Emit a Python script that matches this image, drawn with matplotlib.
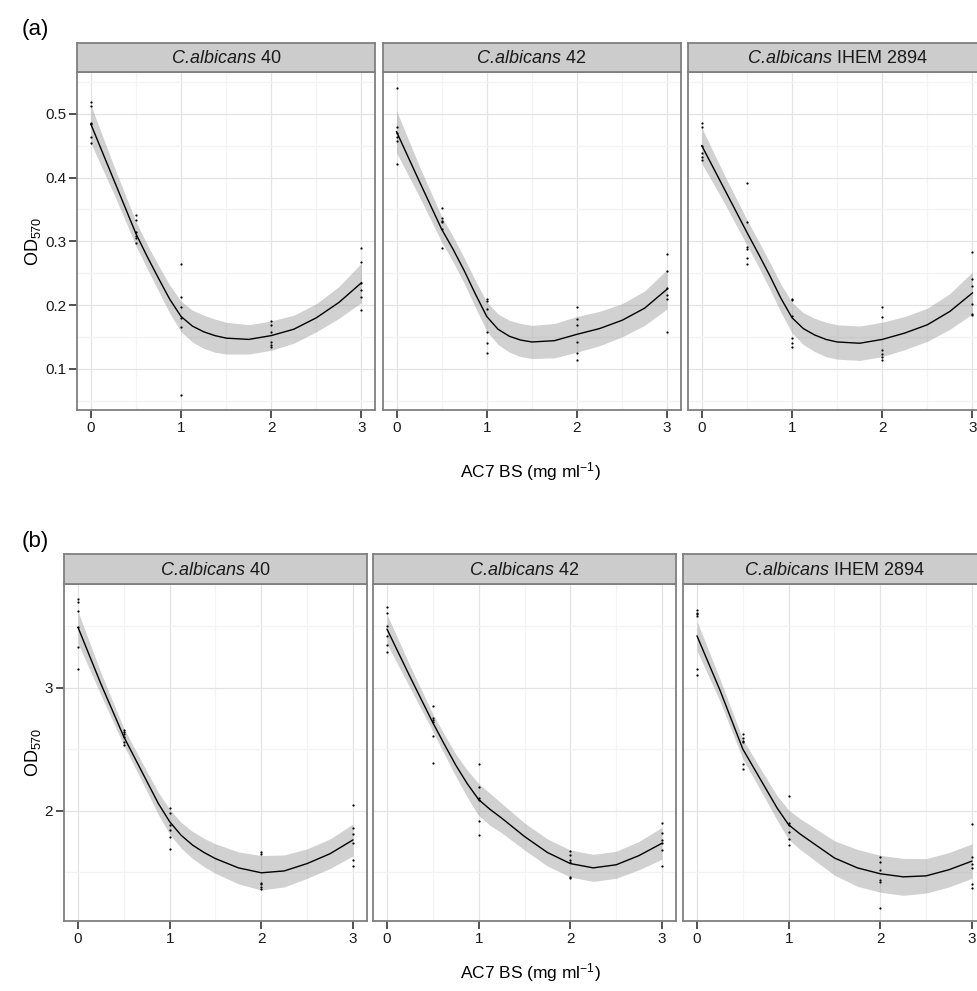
import matplotlib.pyplot as plt
import numpy as np

plt.rcParams['font.family'] = 'Liberation Sans'
plt.rcParams['mathtext.fontset'] = 'custom'
plt.rcParams['mathtext.rm'] = 'Liberation Sans'
plt.rcParams['mathtext.it'] = 'Liberation Sans:italic'

W, H = 978, 991

# strains (facets) and concentrations
strains = ['40', '42', 'IHEM 2894']
conc_levels = [0, 0.5, 1, 2, 3]
conc = np.repeat(conc_levels, 6)

# (a) OD570 readings, 6 replicates per concentration
a_40 = [0.519, 0.512, 0.486, 0.484, 0.463, 0.454,
        0.341, 0.333, 0.315, 0.308, 0.305, 0.297,
        0.265, 0.213, 0.197, 0.179, 0.166, 0.058,
        0.175, 0.169, 0.157, 0.142, 0.137, 0.134,
        0.289, 0.268, 0.234, 0.224, 0.213, 0.192]
a_42 = [0.540, 0.480, 0.470, 0.463, 0.457, 0.421,
        0.352, 0.336, 0.332, 0.330, 0.319, 0.290,
        0.209, 0.206, 0.194, 0.158, 0.140, 0.125,
        0.197, 0.178, 0.169, 0.142, 0.125, 0.114,
        0.280, 0.254, 0.226, 0.216, 0.209, 0.158]
a_ihem = [0.485, 0.479, 0.450, 0.439, 0.432, 0.427,
          0.391, 0.330, 0.291, 0.288, 0.274, 0.265,
          0.210, 0.208, 0.183, 0.149, 0.141, 0.134,
          0.197, 0.181, 0.130, 0.123, 0.118, 0.113,
          0.283, 0.241, 0.230, 0.202, 0.186, 0.185]

# (b) OD570 readings
b_40 = [3.72, 3.70, 3.62, 3.49, 3.33, 3.15,
        2.66, 2.64, 2.62, 2.60, 2.56, 2.53,
        2.02, 1.98, 1.88, 1.84, 1.79, 1.69,
        1.66, 1.65, 1.41, 1.40, 1.38, 1.36,
        2.05, 1.86, 1.81, 1.74, 1.60, 1.55]
b_42 = [3.66, 3.61, 3.50, 3.42, 3.35, 3.29,
        2.85, 2.75, 2.74, 2.72, 2.61, 2.39,
        2.38, 2.19, 2.10, 2.09, 1.92, 1.80,
        1.67, 1.64, 1.60, 1.58, 1.46, 1.45,
        1.90, 1.82, 1.76, 1.74, 1.68, 1.55]
b_ihem = [3.63, 3.61, 3.60, 3.58, 3.15, 3.10,
          2.62, 2.59, 2.57, 2.56, 2.38, 2.34,
          2.12, 1.90, 1.88, 1.83, 1.77, 1.72,
          1.62, 1.58, 1.52, 1.44, 1.42, 1.21,
          1.89, 1.62, 1.57, 1.53, 1.40, 1.37]

fit_x = [0, 0.25, 0.5, 0.625, 0.75, 0.875, 1, 1.125, 1.25, 1.375, 1.5, 1.75, 2, 2.25, 2.5, 2.75, 3]
a_40_fit = [0.484, 0.398, 0.312, 0.276, 0.242, 0.209, 0.182, 0.167, 0.158, 0.152, 0.148, 0.146, 0.152, 0.162, 0.180, 0.204, 0.235]
a_40_band = [0.030, 0.022, 0.019, 0.019, 0.020, 0.022, 0.024, 0.025, 0.026, 0.026, 0.025, 0.023, 0.023, 0.022, 0.022, 0.025, 0.031]
a_42_fit = [0.472, 0.395, 0.319, 0.288, 0.254, 0.217, 0.182, 0.162, 0.151, 0.145, 0.142, 0.144, 0.154, 0.163, 0.176, 0.195, 0.225]
a_42_band = [0.033, 0.024, 0.020, 0.020, 0.020, 0.021, 0.023, 0.024, 0.025, 0.026, 0.026, 0.027, 0.028, 0.027, 0.026, 0.027, 0.031]
a_ihem_fit = [0.450, 0.382, 0.314, 0.281, 0.247, 0.211, 0.180, 0.163, 0.153, 0.146, 0.142, 0.140, 0.146, 0.156, 0.169, 0.190, 0.219]
a_ihem_band = [0.028, 0.022, 0.020, 0.020, 0.021, 0.022, 0.024, 0.025, 0.026, 0.027, 0.027, 0.027, 0.027, 0.026, 0.026, 0.028, 0.033]
b_40_fit = [3.49, 3.03, 2.60, 2.42, 2.24, 2.06, 1.91, 1.80, 1.72, 1.66, 1.61, 1.535, 1.495, 1.51, 1.57, 1.65, 1.762]
b_40_band = [0.13, 0.09, 0.07, 0.075, 0.08, 0.09, 0.10, 0.105, 0.11, 0.115, 0.12, 0.13, 0.14, 0.13, 0.12, 0.12, 0.13]
b_42_fit = [3.475, 3.09, 2.715, 2.54, 2.37, 2.22, 2.09, 2.01, 1.94, 1.865, 1.79, 1.66, 1.57, 1.535, 1.56, 1.635, 1.735]
b_42_band = [0.12, 0.09, 0.07, 0.08, 0.09, 0.11, 0.13, 0.13, 0.12, 0.115, 0.11, 0.11, 0.11, 0.11, 0.11, 0.115, 0.13]
b_ihem_fit = [3.42, 2.98, 2.50, 2.34, 2.18, 2.02, 1.885, 1.81, 1.745, 1.68, 1.615, 1.535, 1.487, 1.462, 1.47, 1.52, 1.59]
b_ihem_band = [0.12, 0.09, 0.08, 0.085, 0.09, 0.10, 0.12, 0.125, 0.13, 0.135, 0.14, 0.15, 0.15, 0.15, 0.14, 0.14, 0.14]


def box(l, t, w, h):          # pixel box -> figure fraction
    return [l / W, 1 - (t + h) / H, w / W, h / H]


fig = plt.figure(figsize=(W / 100, H / 100), dpi=100)
renderer = fig.canvas.get_renderer()

rows = [
    dict(label='(a)', label_y=30, strip_top=42.7, top=72.3, bottom=410,
         lefts=[77.3, 383, 688.3], width=297.7, ylim=(0.0352, 0.5653),
         yticks=[0.1, 0.2, 0.3, 0.4, 0.5], yminor=[0.05, 0.15, 0.25, 0.35, 0.45, 0.55],
         ylabels=['0.1', '0.2', '0.3', '0.4', '0.5'], xlabel_y=472,
         ys=[a_40, a_42, a_ihem], fits=[a_40_fit, a_42_fit, a_ihem_fit],
         bands=[a_40_band, a_42_band, a_ihem_band]),
    dict(label='(b)', label_y=541, strip_top=554.3, top=584, bottom=921,
         lefts=[64.3, 373.3, 683.3], width=302.4, ylim=(1.103, 3.843),
         yticks=[2, 3], yminor=[1.5, 2.5, 3.5], ylabels=['2', '3'], xlabel_y=973,
         ys=[b_40, b_42, b_ihem], fits=[b_40_fit, b_42_fit, b_ihem_fit],
         bands=[b_40_band, b_42_band, b_ihem_band]),
]

for r in rows:
    ph = r['bottom'] - r['top']
    for i in range(3):
        ax = fig.add_axes(box(r['lefts'][i], r['top'], r['width'], ph))
        ax.set_xlim(-0.15, 3.15)
        ax.set_ylim(*r['ylim'])
        ax.set_xticks([0, 1, 2, 3])
        ax.set_xticks([0.5, 1.5, 2.5], minor=True)
        ax.set_xticklabels(['0', '1', '2', '3'])
        ax.set_yticks(r['yticks'])
        ax.set_yticks(r['yminor'], minor=True)
        ax.set_yticklabels(r['ylabels'])
        ax.grid(which='major', color='#E3E3E3', lw=0.9)
        ax.grid(which='minor', color='#F3F3F3', lw=0.9)
        ax.set_axisbelow(True)
        ax.tick_params(which='major', length=6, width=1.2, color='#333333',
                       labelsize=11, pad=2, labelcolor='#1a1a1a')
        ax.tick_params(which='minor', length=0)
        if i > 0:
            ax.tick_params(axis='y', left=False, labelleft=False)
        for s in ax.spines.values():
            s.set_color('#7F7F7F')
            s.set_linewidth(1.3)

        fit = np.array(r['fits'][i])
        band = np.array(r['bands'][i])
        ax.fill_between(fit_x, fit - band, fit + band, color='#999999', alpha=0.45, lw=0)
        ax.plot(fit_x, fit, color='black', lw=1.0)
        ax.scatter(conc, r['ys'][i], s=2.5, color='black', lw=0, zorder=3)

        # facet strip: italic species name + plain strain id
        sx = fig.add_axes(box(r['lefts'][i], r['strip_top'], r['width'], r['top'] - r['strip_top']))
        sx.set_facecolor('#CCCCCC')
        sx.set_xticks([])
        sx.set_yticks([])
        sx.set_xlim(0, 1)
        sx.set_ylim(0, 1)
        for s in sx.spines.values():
            s.set_color('#7F7F7F')
            s.set_linewidth(1.3)
        t1 = sx.text(0, 0.47, 'C.albicans', style='italic', fontsize=13, color='#1a1a1a',
                     ha='left', va='center')
        t2 = sx.text(0, 0.47, ' ' + strains[i], fontsize=13, color='#1a1a1a',
                     ha='left', va='center')
        w1 = t1.get_window_extent(renderer).width
        w2 = t2.get_window_extent(renderer).width
        axw = sx.get_window_extent(renderer).width
        x0 = 0.5 - (w1 + w2) / 2 / axw
        t1.set_x(x0)
        t2.set_x(x0 + w1 / axw)

    fig.text(22 / W, 1 - r['label_y'] / H, r['label'], fontsize=16, ha='left', va='center')
    fig.text(33 / W, 1 - (r['top'] + ph / 2) / H, r'OD$_{570}$', rotation=90,
             fontsize=13, ha='center', va='center')
    fig.text(530 / W, 1 - r['xlabel_y'] / H, r'AC7 BS (mg ml$^{-1}$)', fontsize=12.5,
             ha='center', va='center')

fig.savefig('out.png', dpi=100)
